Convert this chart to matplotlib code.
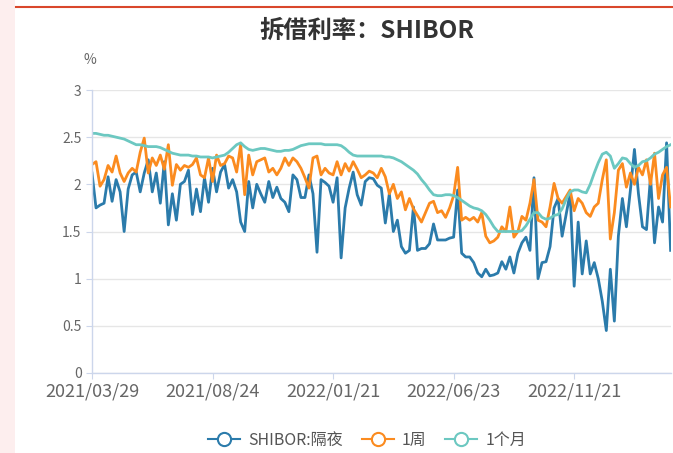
import matplotlib
matplotlib.use("Agg")
import matplotlib.pyplot as plt
from matplotlib.lines import Line2D
from matplotlib.patches import Rectangle

plt.rcParams['font.family'] = ['Noto Sans CJK SC', 'DejaVu Sans']

# 交易日序列（类目轴），每隔30个点标一个日期
tick_pos = [0, 30, 60, 90, 120]
tick_labels = ["2021/03/29", "2021/08/24", "2022/01/21", "2022/06/23", "2022/11/21"]

overnight = [
    2.12, 1.75, 1.78, 1.80, 2.08, 1.82, 2.05, 1.92, 1.50, 1.95,
    2.10, 2.13, 1.92, 2.12, 2.26, 1.92, 2.12, 1.80, 2.24, 1.57,
    1.90, 1.62, 2.00, 2.03, 2.15, 1.68, 1.95, 1.71, 2.07, 1.81,
    2.17, 1.92, 2.13, 2.21, 1.96, 2.05, 1.92, 1.60, 1.50, 2.03,
    1.75, 2.00, 1.90, 1.81, 2.03, 1.86, 1.97, 1.85, 1.81, 1.71,
    2.10, 2.05, 1.86, 1.86, 2.10, 1.90, 1.28, 2.05, 2.02, 1.98,
    1.81, 2.07, 1.22, 1.75, 1.96, 2.13, 1.89, 1.78, 2.03, 2.07,
    2.06, 1.99, 1.96, 1.59, 1.90, 1.50, 1.62, 1.34, 1.27, 1.30,
    1.76, 1.30, 1.32, 1.32, 1.37, 1.58, 1.41, 1.41, 1.41, 1.43,
    1.44, 1.94, 1.27, 1.23, 1.23, 1.17, 1.06, 1.02, 1.10, 1.03,
    1.04, 1.06, 1.18, 1.10, 1.23, 1.06, 1.27, 1.38, 1.44, 1.30,
    2.07, 1.00, 1.17, 1.18, 1.34, 1.75, 1.85, 1.45, 1.68, 1.91,
    0.92, 1.60, 1.05, 1.40, 1.05, 1.17, 1.00, 0.76, 0.45, 1.10,
    0.55, 1.45, 1.85, 1.55, 1.94, 2.37, 1.90, 1.55, 1.52, 2.08,
    1.38, 1.76, 1.60, 2.44, 1.30,
]

week1 = [
    2.21, 2.24, 1.98, 2.05, 2.20, 2.13, 2.30, 2.12, 2.03, 2.12,
    2.17, 2.13, 2.34, 2.49, 2.12, 2.28, 2.20, 2.31, 2.16, 2.42,
    1.99, 2.21, 2.15, 2.20, 2.18, 2.21, 2.28, 2.10, 2.07, 2.28,
    2.03, 2.31, 2.20, 2.22, 2.30, 2.28, 2.13, 2.42, 1.89, 2.31,
    2.10, 2.24, 2.26, 2.28, 2.13, 2.17, 2.10, 2.17, 2.28, 2.20,
    2.28, 2.24, 2.17, 2.07, 1.96, 2.28, 2.30, 2.10, 2.17, 2.12,
    2.10, 2.24, 2.10, 2.22, 2.14, 2.24, 2.16, 2.07, 2.10, 2.14,
    2.12, 2.07, 2.17, 2.08, 1.90, 2.00, 1.85, 1.92, 1.73, 1.85,
    1.74, 1.67, 1.60, 1.70, 1.80, 1.82, 1.70, 1.72, 1.65, 1.75,
    1.88, 2.18, 1.62, 1.65, 1.62, 1.65, 1.60, 1.70, 1.45, 1.38,
    1.40, 1.44, 1.55, 1.50, 1.76, 1.44, 1.50, 1.66, 1.62, 1.80,
    2.05, 1.62, 1.60, 1.55, 1.76, 2.01, 1.85, 1.80, 1.87, 1.94,
    1.72, 1.85, 1.80, 1.70, 1.66, 1.76, 1.80, 2.05, 2.26, 1.42,
    1.70, 2.15, 2.22, 1.97, 2.12, 2.00, 2.18, 2.10, 2.26, 2.00,
    2.33, 1.85, 2.10, 2.18, 1.76,
]

month1 = [
    2.54, 2.54, 2.53, 2.52, 2.52, 2.51, 2.50, 2.49, 2.48, 2.46,
    2.44, 2.42, 2.42, 2.41, 2.40, 2.40, 2.40, 2.39, 2.37, 2.35,
    2.33, 2.32, 2.31, 2.31, 2.31, 2.30, 2.30, 2.29, 2.29, 2.29,
    2.28, 2.29, 2.30, 2.31, 2.34, 2.38, 2.42, 2.44, 2.40, 2.37,
    2.36, 2.37, 2.38, 2.38, 2.37, 2.36, 2.35, 2.35, 2.36, 2.36,
    2.37, 2.39, 2.41, 2.42, 2.43, 2.43, 2.43, 2.43, 2.42, 2.42,
    2.42, 2.42, 2.41, 2.38, 2.34, 2.31, 2.30, 2.30, 2.30, 2.30,
    2.30, 2.30, 2.30, 2.29, 2.29, 2.28, 2.26, 2.24, 2.21, 2.18,
    2.15, 2.11, 2.05, 2.00, 1.94, 1.89, 1.88, 1.88, 1.89, 1.89,
    1.88, 1.86, 1.83, 1.80, 1.77, 1.75, 1.74, 1.72, 1.68, 1.62,
    1.55, 1.50, 1.50, 1.50, 1.50, 1.50, 1.50, 1.51, 1.56, 1.63,
    1.70, 1.70, 1.65, 1.63, 1.64, 1.67, 1.68, 1.74, 1.84, 1.92,
    1.94, 1.94, 1.92, 1.91, 2.00, 2.12, 2.23, 2.32, 2.34, 2.30,
    2.17, 2.22, 2.28, 2.27, 2.22, 2.18, 2.20, 2.24, 2.25, 2.28,
    2.32, 2.34, 2.37, 2.40, 2.42,
]

series_names = ["SHIBOR:隔夜", "1周", "1个月"]
colors = ["#2b7bab", "#fb8b1f", "#6cc8c1"]

fig = plt.figure(figsize=(6.73, 4.53), dpi=100)
fig.patch.set_facecolor("white")

# 页面装饰：左侧浅粉条和顶部红线
fig.add_artist(Rectangle((0, 0), 15 / 673, 1, transform=fig.transFigure,
                         facecolor="#fdeeee", edgecolor="none"))
fig.add_artist(Line2D([16 / 673, 1], [1 - 7 / 453, 1 - 7 / 453], transform=fig.transFigure,
                      color="#d9472b", linewidth=1.5))

ax = fig.add_axes([92 / 673, 1 - 373 / 453, 579 / 673, 283 / 453])

x = list(range(len(overnight)))
for vals, name, c in zip([overnight, week1, month1], series_names, colors):
    ax.plot(x, vals, color=c, linewidth=2.0, label=name, solid_joinstyle="round")

ax.set_xlim(0, 144.1)
ax.set_ylim(0, 3)
ax.set_yticks([0, 0.5, 1, 1.5, 2, 2.5, 3])
ax.set_yticklabels(["0", "0.5", "1", "1.5", "2", "2.5", "3"])
ax.set_xticks(tick_pos)
ax.set_xticklabels(tick_labels)

ax.grid(axis="y", color="#e6e6e6", linewidth=1)
ax.set_axisbelow(True)
for s in ["top", "right"]:
    ax.spines[s].set_visible(False)
for s in ["left", "bottom"]:
    ax.spines[s].set_color("#ccd6eb")
    ax.spines[s].set_linewidth(1)

ax.tick_params(axis="y", colors="#ccd6eb", labelcolor="#666666", labelsize=10, length=4.5, pad=3)
ax.tick_params(axis="x", colors="#ccd6eb", labelcolor="#666666", labelsize=13, length=4.5, pad=2)

fig.text(367 / 673, 1 - 31 / 453, "拆借利率：SHIBOR", ha="center", va="center",
         fontsize=17.5, fontweight="bold", color="#333333")
fig.text(90 / 673, 1 - 60 / 453, "%", ha="center", va="center", fontsize=10, color="#666666")

handles = [Line2D([0], [0], color=c, linewidth=1.5, marker="o", markersize=9.5,
                  markerfacecolor="white", markeredgewidth=1.5) for c in colors]
fig.legend(handles, series_names, loc="center", bbox_to_anchor=(367 / 673, 1 - 440 / 453),
           ncol=3, frameon=False, fontsize=11.5, labelcolor="#555555",
           handlelength=2.0, handletextpad=0.5, columnspacing=1.2)

fig.savefig("out.png", dpi=100)
